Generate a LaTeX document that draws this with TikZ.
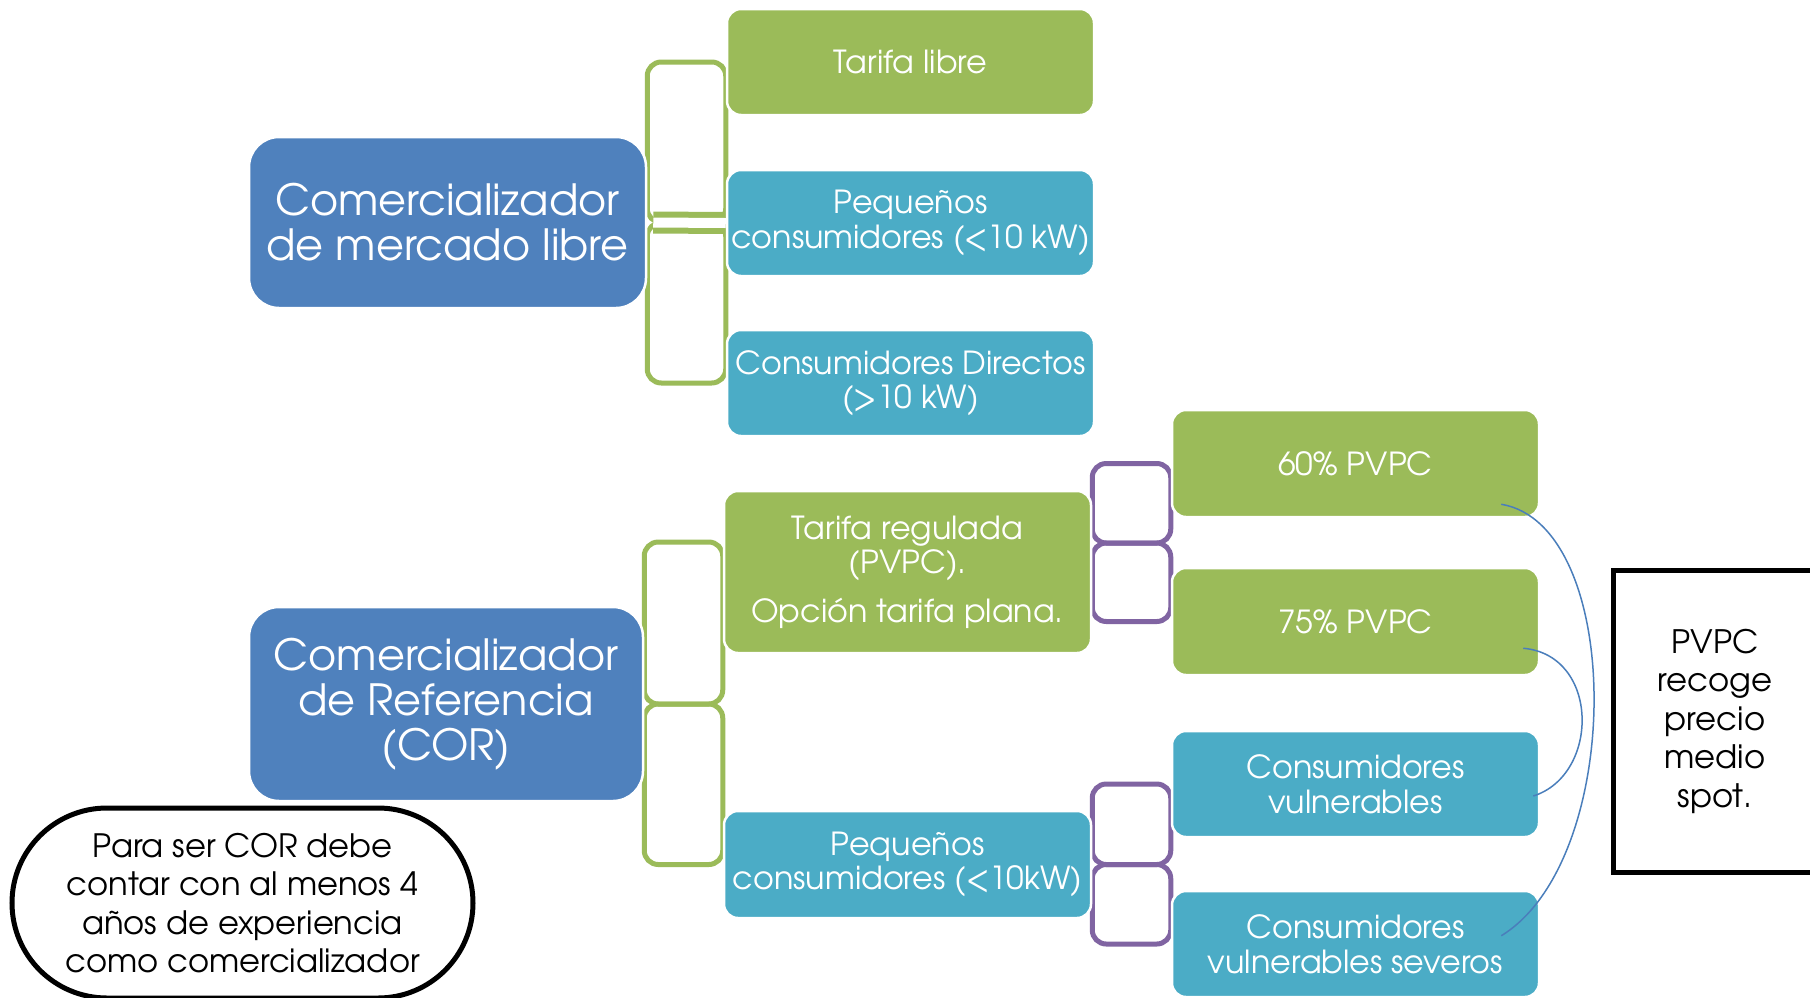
\documentclass[tikz,border=0pt]{standalone}
\usepackage{fontspec}
\setmainfont{TeX Gyre Adventor}
\pgfdeclarelayer{bg}
\pgfsetlayers{bg,main}
\definecolor{cblue}{HTML}{4F81BD}
\definecolor{cgreen}{HTML}{9BBB59}
\definecolor{cteal}{HTML}{4BACC6}
\definecolor{cpurple}{HTML}{8064A2}
\definecolor{ccurve}{HTML}{4A7EBB}
\begin{document}
\begin{tikzpicture}[x=1pt,y=-1pt,
  box/.style={rectangle, rounded corners=14pt, draw=white, line width=2.5pt, text=white, align=center, inner sep=0pt, minimum width=367pt, minimum height=106pt, font=\fontsize{31.8}{34.6}\selectfont},
  gbox/.style={box, fill=cgreen},
  tbox/.style={box, fill=cteal},
  bigbox/.style={box, rounded corners=30pt, fill=cblue, font=\fontsize{43}{45}\selectfont},
  gconn/.style={draw=cgreen, line width=5pt, rounded corners=14pt},
  pconn/.style={draw=cpurple, line width=5pt, rounded corners=14pt},
  curve/.style={draw=ccurve, line width=1.5pt},
  blacktext/.style={text=black, align=center, inner sep=0pt, font=\fontsize{32.2}{38.5}\selectfont}
]
\useasboundingbox (0,0) rectangle (1810,997);
\clip (0,0) rectangle (1810,997);

% upper tree
\node[bigbox, minimum width=397pt, minimum height=171pt] (A) at (447.5,222.5) {Comercializador\\de mercado libre};
\node[gbox] (t1) at (910.5,62) {Tarifa libre};
\node[tbox] (t2) at (910.5,223) {Pequeños\\consumidores (<10 kW)};
\node[tbox] (t3) at (910.5,383) {Consumidores Directos\\(>10 kW)};

% lower tree
\node[bigbox, minimum width=394pt, minimum height=194pt] (B) at (446,704) {Comercializador\\de Referencia\\(COR)};
\node[gbox, minimum height=162pt] (r1) at (907.5,572) {Tarifa regulada\\(PVPC).\\[14pt]Opción tarifa plana.};
\node[tbox, minimum height=107pt] (r2) at (907.5,864.5) {Pequeños\\consumidores (<10kW)};
\node[gbox, minimum height=107pt] (p1) at (1355.5,463.5) {60\% PVPC};
\node[gbox, minimum height=107pt] (p2) at (1355.5,621.5) {75\% PVPC};
\node[tbox] (p3) at (1355.5,784) {Consumidores\\vulnerables};
\node[tbox] (p4) at (1355.5,944) {Consumidores\\vulnerables severos};

% connectors (brackets)
\begin{pgfonlayer}{bg}
\fill[white] (0,0) rectangle (1810,997);
\draw[gconn] (A.east) rectangle (t1.west);
\draw[gconn] (A.east) rectangle (t3.west);
\draw[cgreen, line width=6pt, double=white, double distance=10pt] ([xshift=6pt]A.east) -- (t2.west);
\draw[gconn] (B.east) rectangle ([yshift=30pt]r1.west);
\draw[gconn] (B.east) rectangle (r2.west);
\draw[pconn] ([yshift=29pt]r1.east) rectangle (p1.west);
\draw[pconn] ([yshift=29pt]r1.east) rectangle (p2.west);
\draw[pconn] (r2.east) rectangle (p3.west);
\draw[pconn] (r2.east) rectangle (p4.west);
\end{pgfonlayer}

% curves
\draw[curve] ([xshift=-39pt,yshift=14pt]p1.south east) .. controls (1625,525) and (1625,860) .. ([xshift=-39pt,yshift=-46pt]p4.north east);
\draw[curve] ([xshift=-17pt,yshift=28pt]p2.south east) .. controls (1600,655) and (1600,775) .. ([xshift=-7pt,yshift=-12pt]p3.east);

% right box
\node[blacktext, draw=black, line width=5pt, minimum width=204pt, minimum height=302pt, font=\fontsize{32.3}{38.5}\selectfont] (spot) at (1715,721) {PVPC\\recoge\\precio\\medio\\spot.};

% note
\node[blacktext, draw=black, line width=5pt, rounded corners=95pt, minimum width=461pt, minimum height=190pt] (note) at (242.5,903) {Para ser COR debe\\contar con al menos 4\\años de experiencia\\como comercializador};
\end{tikzpicture}
\end{document}
